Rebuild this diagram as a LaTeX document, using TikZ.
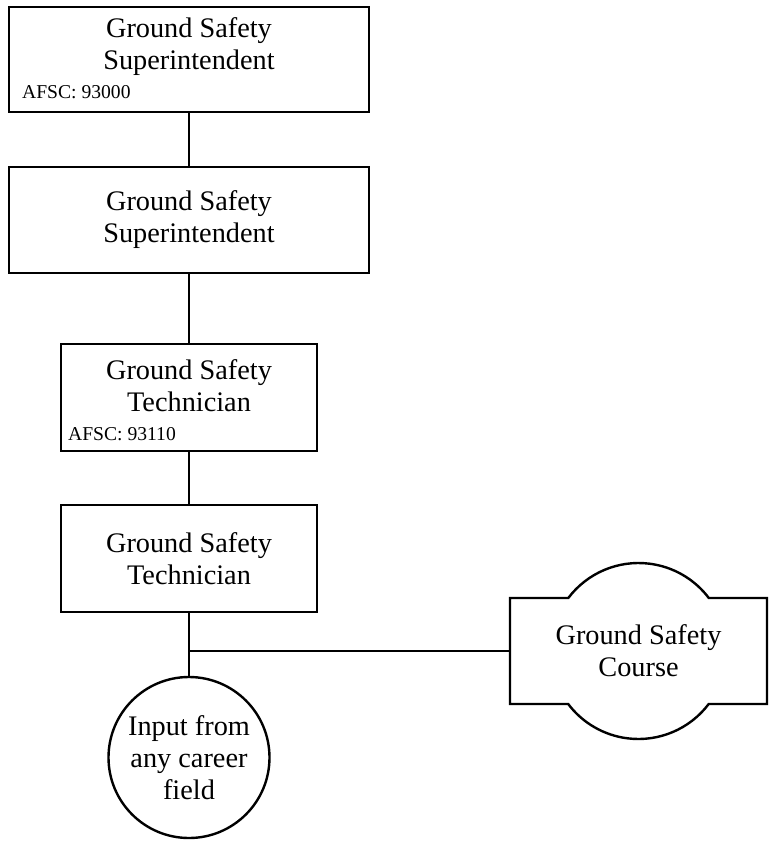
\documentclass[tikz,border=0pt]{standalone}
\usepackage{fontspec}
\setmainfont{Liberation Serif}
\newcommand{\gstitle}{\fontsize{28.3}{32}\selectfont}
\newcommand{\gsafsc}{\fontsize{19.6}{22}\selectfont}
\begin{document}
\begin{tikzpicture}[x=1pt,y=-1pt,
  lw/.style={line width=2.4pt},
  box/.style={draw, lw, rectangle, fill=white, inner sep=0pt, align=center, font=\gstitle},
  title/.style={align=center, inner sep=0pt, font=\gstitle},
  afsc/.style={inner sep=0pt, font=\gsafsc},
  inputnode/.style={draw, lw, circle, fill=white, inner sep=0pt, align=center, font=\gstitle, minimum size=161}]
\useasboundingbox (0,0) rectangle (769,841);

% course outline (rectangle with circular bulges)
\draw[lw, fill=white] (510,598) -- (568.3,598)
  arc[start angle=-142.97, end angle=-37.03, radius=88] -- (767,598) -- (767,704) -- (708.7,704)
  arc[start angle=37.03, end angle=142.97, radius=88] -- (510,704) -- cycle;

\node[box, minimum width=360, minimum height=105] (b1) at (189,59.5) {};
\node[title] (t1) at (189,47) {Ground Safety\\Superintendent};
\node[afsc, anchor=base west] (a1) at (22,98) {AFSC: 93000};

\node[box, minimum width=360, minimum height=106] (b2) at (189,220) {Ground Safety\\Superintendent};

\node[box, minimum width=256, minimum height=107] (b3) at (189,397.5) {};
\node[title] (t3) at (189,386) {Ground Safety\\Technician};
\node[afsc, anchor=base west] (a3) at (68,440) {AFSC: 93110};

\node[box, minimum width=256, minimum height=107] (b4) at (189,558.5) {Ground Safety\\Technician};

\node[inputnode] (inp) at (189,757.5) {Input from\\any career\\field};

\node[title, minimum width=257, minimum height=106] (course) at (638.5,651) {Ground Safety\\Course};

\coordinate (j) at (b4.south |- course.west);
\draw[lw] (b1.south) -- (b2.north);
\draw[lw] (b2.south) -- (b3.north);
\draw[lw] (b3.south) -- (b4.north);
\draw[lw] (b4.south) -- (inp.north);
\draw[lw] (j) -- (course.west);
\end{tikzpicture}
\end{document}
